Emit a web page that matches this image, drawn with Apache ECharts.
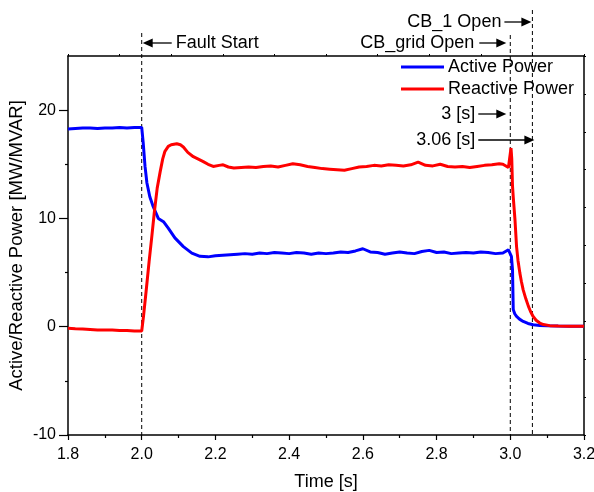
<!DOCTYPE html>
<html><head><meta charset="utf-8">
<script src="https://cdn.jsdelivr.net/npm/echarts@6/dist/echarts.min.js"></script>
<style>html,body{margin:0;padding:0;background:#fff}#c{width:594px;height:492px}</style>
</head><body><div id="c"></div>
<script>
const FONT = '"Liberation Sans", Arial, sans-serif';

const activeTime = [1.80,1.82,1.84,1.86,1.88,1.90,1.92,1.94,1.96,1.98,2.00,2.004,2.009,2.014,2.022,2.031,2.045,2.059,2.072,2.09,2.113,2.136,2.158,2.18,2.20,2.22,2.24,2.26,2.28,2.30,2.32,2.34,2.36,2.38,2.40,2.42,2.44,2.46,2.48,2.50,2.52,2.54,2.56,2.58,2.60,2.62,2.64,2.66,2.68,2.70,2.72,2.74,2.76,2.78,2.80,2.82,2.84,2.86,2.88,2.90,2.92,2.94,2.96,2.98,2.995,3.000,3.003,3.006,3.008,3.012,3.017,3.025,3.035,3.048,3.062,3.08,3.10,3.13,3.16,3.20];
const activePower = [18.25,18.3,18.35,18.35,18.3,18.35,18.35,18.4,18.35,18.4,18.4,17.0,14.8,13.3,12.0,11.1,10.0,9.7,9.1,8.2,7.4,6.8,6.5,6.45,6.55,6.6,6.65,6.7,6.75,6.7,6.8,6.75,6.85,6.8,6.75,6.85,6.8,6.7,6.8,6.75,6.8,6.9,6.85,7.0,7.2,6.9,6.85,6.7,6.8,6.9,6.8,6.75,6.95,7.05,6.85,6.9,6.75,6.8,6.85,6.8,6.9,6.85,6.75,6.8,7.1,7.25,6.5,5.3,1.6,1.2,0.95,0.7,0.49,0.3,0.18,0.12,0.08,0.06,0.05,0.05];

const reactiveTime = [1.80,1.82,1.84,1.86,1.88,1.90,1.92,1.94,1.96,1.98,2.00,2.005,2.012,2.02,2.027,2.034,2.042,2.05,2.057,2.063,2.072,2.08,2.095,2.105,2.113,2.125,2.14,2.155,2.167,2.18,2.194,2.21,2.221,2.235,2.25,2.27,2.29,2.31,2.33,2.35,2.37,2.39,2.41,2.43,2.45,2.47,2.49,2.51,2.53,2.55,2.57,2.59,2.61,2.63,2.65,2.67,2.69,2.71,2.73,2.75,2.77,2.79,2.81,2.83,2.85,2.87,2.89,2.91,2.93,2.95,2.97,2.98,2.995,3.000,3.002,3.004,3.006,3.008,3.0127,3.017,3.021,3.026,3.030,3.035,3.042,3.049,3.055,3.062,3.07,3.08,3.09,3.107,3.13,3.16,3.20];
const reactivePower = [-0.15,-0.18,-0.2,-0.25,-0.3,-0.3,-0.3,-0.35,-0.35,-0.4,-0.4,1.0,3.3,6.0,8.2,10.5,12.8,14.3,15.5,16.2,16.65,16.8,16.9,16.8,16.6,16.1,15.7,15.45,15.25,15.0,14.8,14.9,14.95,14.75,14.65,14.7,14.75,14.7,14.8,14.85,14.75,14.9,15.05,14.95,14.8,14.7,14.6,14.55,14.5,14.45,14.6,14.75,14.8,14.9,14.85,14.95,14.9,14.85,14.95,15.2,14.9,14.85,15.0,14.8,14.75,14.8,14.7,14.8,14.9,14.95,15.05,15.0,14.7,14.7,16.5,15.5,13.0,12.0,9.9,7.4,6.1,4.95,4.2,3.4,2.6,1.9,1.4,0.95,0.6,0.34,0.2,0.1,0.06,0.05,0.05];

const seriesNames = ['Active Power', 'Reactive Power'];
const seriesColors = ['#0000ff', '#ff0000'];
const yLabelValues = [-10, 0, 10, 20];
const yMinorValues = [-5, 5, 15];
const eventTimes = [2.0, 3.0, 3.06];   // fault start, CB_grid open, CB_1 open

const axisLineStyle = {color: '#000', width: 1.5};

const chart = echarts.init(document.getElementById('c'), null, {renderer: 'canvas'});
chart.setOption({
  animation: false,
  backgroundColor: '#fff',
  textStyle: {fontFamily: FONT},
  grid: {left: 68, top: 56, right: 10, bottom: 57, containLabel: false, outerBoundsMode: 'none'},
  legend: {
    orient: 'vertical', left: 401, top: 58, padding: 0,
    itemWidth: 43, itemHeight: 3, itemGap: 4, icon: 'rect',
    textStyle: {fontSize: 18, color: '#000', fontFamily: FONT, padding: [0,0,0,-1]},
    data: seriesNames
  },
  xAxis: [
    {type: 'value', min: 1.8, max: 3.2, interval: 0.2, position: 'bottom',
     axisLine: {show: true, onZero: false, lineStyle: axisLineStyle},
     axisTick: {show: true, length: 5, lineStyle: {color: '#000', width: 1.2}},
     minorTick: {show: true, splitNumber: 2, length: 3, lineStyle: {color: '#000', width: 1.2}},
     splitLine: {show: false},
     axisLabel: {fontSize: 16, color: '#000', margin: 12, fontFamily: FONT, formatter: v => v.toFixed(1)},
     name: 'Time [s]', nameLocation: 'middle', nameGap: 38, nameMoveOverlap: false,
     nameTextStyle: {fontSize: 18, color: '#000', fontFamily: FONT}},
    {type: 'value', min: 0, max: 10, interval: 1, position: 'top',
     axisLine: {show: true, onZero: false, lineStyle: axisLineStyle},
     axisTick: {show: true, length: 2, lineStyle: {color: '#000'}},
     axisLabel: {show: false}, splitLine: {show: false}}
  ],
  yAxis: [
    {type: 'value', min: -10, max: 25, position: 'left',
     axisLine: {show: true, onZero: false, lineStyle: axisLineStyle},
     axisTick: {show: true, customValues: yLabelValues, length: 9, lineStyle: {color: '#000', width: 1.2}},
     axisLabel: {customValues: yLabelValues, fontSize: 16, color: '#000', margin: 12, fontFamily: FONT},
     splitLine: {show: false},
     name: 'Active/Reactive Power [MW/MVAR]', nameLocation: 'middle', nameGap: 42, nameRotate: 90,
     nameMoveOverlap: false,
     nameTextStyle: {fontSize: 18.5, color: '#000', fontFamily: FONT}},
    {type: 'value', min: -10, max: 25, position: 'left',
     axisLine: {show: false, onZero: false},
     axisTick: {show: true, customValues: yMinorValues, length: 3, lineStyle: {color: '#000', width: 1.2}},
     axisLabel: {show: false}, splitLine: {show: false}},
    {type: 'value', min: 0, max: 10, interval: 1, position: 'right',
     axisLine: {show: true, onZero: false, lineStyle: axisLineStyle},
     axisTick: {show: true, length: 2, lineStyle: {color: '#000'}},
     axisLabel: {show: false}, splitLine: {show: false}}
  ],
  series: [
    {name: seriesNames[0], type: 'line', xAxisIndex: 0, yAxisIndex: 0, showSymbol: false, symbol: 'none',
     color: seriesColors[0], lineStyle: {width: 3, color: seriesColors[0]}, z: 3,
     data: activeTime.map((t, i) => [t, activePower[i]])},
    {name: seriesNames[1], type: 'line', xAxisIndex: 0, yAxisIndex: 0, showSymbol: false, symbol: 'none',
     color: seriesColors[1], lineStyle: {width: 3, color: seriesColors[1]}, z: 4,
     data: reactiveTime.map((t, i) => [t, reactivePower[i]])}
  ]
});

// annotations derived from the axis scales
const px = t => chart.convertToPixel({xAxisIndex: 0}, t);
const yBottom = chart.convertToPixel({yAxisIndex: 0}, -10);
const xF = px(eventTimes[0]), xG = px(eventTimes[1]), xC = px(eventTimes[2]);

function dashed(x, yTop) {
  return {type: 'line', silent: true, z: 1,
    shape: {x1: x, y1: yTop, x2: x, y2: yBottom},
    style: {stroke: '#000', lineWidth: 1, lineDash: [4, 3]}};
}
function arrow(xTail, xTip, y) {
  const dir = xTip > xTail ? 1 : -1;
  const hl = 10, hh = 4.5;
  return [
    {type: 'line', silent: true, z: 5, shape: {x1: xTail, y1: y, x2: xTip - dir * hl + dir, y2: y},
     style: {stroke: '#000', lineWidth: 1.3}},
    {type: 'polygon', silent: true, z: 5,
     shape: {points: [[xTip, y], [xTip - dir * hl, y - hh], [xTip - dir * hl, y + hh]]},
     style: {fill: '#000'}}
  ];
}
function label(text, x, y, align) {
  return {type: 'text', silent: true, z: 5, x: x, y: y,
    style: {text: text, fill: '#000', fontSize: 18, fontFamily: FONT, align: align, verticalAlign: 'middle'}};
}

const g = [
  dashed(xF, 33), dashed(xG, 35), dashed(xC, 10),
  ...arrow(xF + 30, xF + 1, 43), label('Fault Start', xF + 34, 43, 'left'),
  ...arrow(xG - 31, xG - 4, 43), label('CB_grid Open', xG - 36, 43, 'right'),
  ...arrow(xC - 28, xC - 1, 22), label('CB_1 Open', xC - 31, 22, 'right'),
  ...arrow(xG - 32, xG - 4, 114), label('3 [s]', xG - 35, 114, 'right'),
  ...arrow(xG - 32, xC + 2, 140), label('3.06 [s]', xG - 35, 140, 'right')
];
chart.setOption({graphic: g});
</script>
</body></html>
